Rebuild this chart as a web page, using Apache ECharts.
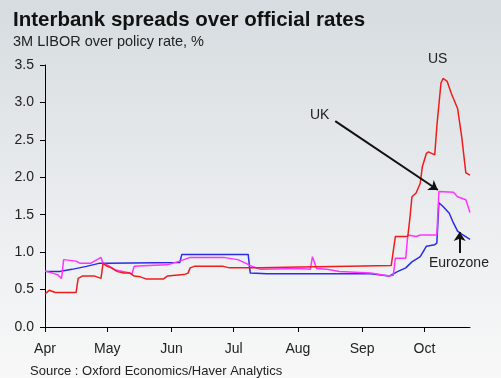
<html>
<head>
<meta charset="utf-8">
<title>Interbank spreads</title>
<script src="https://cdn.jsdelivr.net/npm/echarts@6/dist/echarts.min.js"></script>
<style>
body{margin:0; overflow:hidden;}
#main{width:501px; height:378px;}
</style>
</head>
<body>
<div id="main"></div>
<script type="text/javascript">
  var chart = echarts.init(document.getElementById('main'));

  // 3M LIBOR over policy rate, % (2008)
  var usData = [
    ['2008-04-01', 0.44], ['2008-04-03', 0.49], ['2008-04-06', 0.46], ['2008-04-16', 0.46],
    ['2008-04-17', 0.65], ['2008-04-19', 0.68], ['2008-04-25', 0.68], ['2008-04-28', 0.65],
    ['2008-04-29', 0.85], ['2008-05-01', 0.81], ['2008-05-03', 0.79], ['2008-05-06', 0.74],
    ['2008-05-09', 0.72], ['2008-05-12', 0.72], ['2008-05-14', 0.68], ['2008-05-17', 0.67],
    ['2008-05-20', 0.64], ['2008-05-28', 0.64], ['2008-05-30', 0.68], ['2008-06-07', 0.70],
    ['2008-06-09', 0.72], ['2008-06-10', 0.79], ['2008-06-12', 0.81], ['2008-06-26', 0.81],
    ['2008-06-29', 0.79], ['2008-07-14', 0.79], ['2008-08-02', 0.80], ['2008-08-26', 0.81],
    ['2008-09-15', 0.82], ['2008-09-17', 1.21], ['2008-09-23', 1.21], ['2008-09-24', 1.45],
    ['2008-09-25', 1.74], ['2008-09-27', 1.79], ['2008-09-29', 1.92], ['2008-09-30', 2.14],
    ['2008-10-02', 2.32], ['2008-10-03', 2.34], ['2008-10-06', 2.30], ['2008-10-07', 2.68],
    ['2008-10-09', 3.26], ['2008-10-10', 3.32], ['2008-10-12', 3.28], ['2008-10-14', 3.12],
    ['2008-10-17', 2.92], ['2008-10-19', 2.54], ['2008-10-21', 2.06], ['2008-10-23', 2.03]
  ];

  var ukData = [
    ['2008-04-01', 0.75], ['2008-04-07', 0.70], ['2008-04-09', 0.65], ['2008-04-10', 0.90],
    ['2008-04-16', 0.88], ['2008-04-18', 0.85], ['2008-04-23', 0.85], ['2008-04-28', 0.93],
    ['2008-04-29', 0.85], ['2008-05-01', 0.83], ['2008-05-05', 0.76], ['2008-05-12', 0.72],
    ['2008-05-13', 0.71], ['2008-05-14', 0.81], ['2008-05-21', 0.82], ['2008-05-30', 0.83],
    ['2008-06-05', 0.88], ['2008-06-10', 0.93], ['2008-06-26', 0.93], ['2008-07-03', 0.90],
    ['2008-07-07', 0.85], ['2008-07-09', 0.82], ['2008-07-14', 0.77], ['2008-08-02', 0.78],
    ['2008-08-07', 0.77], ['2008-08-08', 0.94], ['2008-08-10', 0.78], ['2008-08-15', 0.77],
    ['2008-08-21', 0.74], ['2008-09-05', 0.72], ['2008-09-14', 0.68], ['2008-09-16', 0.69],
    ['2008-09-17', 0.92], ['2008-09-22', 0.92], ['2008-09-23', 1.23], ['2008-09-27', 1.21],
    ['2008-09-29', 1.23], ['2008-10-07', 1.23], ['2008-10-08', 1.81], ['2008-10-15', 1.80],
    ['2008-10-17', 1.74], ['2008-10-19', 1.72], ['2008-10-21', 1.70], ['2008-10-23', 1.53]
  ];

  var euroData = [
    ['2008-04-01', 0.74], ['2008-04-08', 0.74], ['2008-04-14', 0.77], ['2008-04-21', 0.81],
    ['2008-04-27', 0.85], ['2008-05-01', 0.85], ['2008-06-05', 0.86], ['2008-06-06', 0.97],
    ['2008-07-08', 0.97], ['2008-07-09', 0.72], ['2008-07-17', 0.71], ['2008-08-18', 0.71],
    ['2008-09-05', 0.71], ['2008-09-14', 0.68], ['2008-09-18', 0.74], ['2008-09-22', 0.79],
    ['2008-09-25', 0.87], ['2008-09-29', 0.94], ['2008-10-02', 1.08], ['2008-10-06', 1.10],
    ['2008-10-07', 1.12], ['2008-10-08', 1.66], ['2008-10-10', 1.61], ['2008-10-13', 1.52],
    ['2008-10-15', 1.39], ['2008-10-17', 1.28], ['2008-10-19', 1.24], ['2008-10-23', 1.17]
  ];

  var monthNames = ['Jan', 'Feb', 'Mar', 'Apr', 'May', 'Jun', 'Jul', 'Aug', 'Sep', 'Oct', 'Nov', 'Dec'];

  // annotation arrows (from -> to), in data coordinates
  var ukArrow = [['2008-08-19', 2.75], ['2008-10-07 12:00', 1.83]];
  var euroArrow = [['2008-10-18', 0.99], ['2008-10-18', 1.27]];

  var font = '"Liberation Sans", Arial, sans-serif';

  var option = {
    animation: false,
    backgroundColor: {
      type: 'linear', x: 0, y: 0, x2: 0, y2: 1,
      colorStops: [{offset: 0, color: '#d6dce0'}, {offset: 0.6, color: '#eceef0'}, {offset: 1, color: '#f8f8f8'}]
    },
    title: {
      text: 'Interbank spreads over official rates',
      subtext: '3M LIBOR over policy rate, %',
      left: 8,
      top: 5,
      itemGap: 3,
      textStyle: {fontFamily: font, fontSize: 20.5, fontWeight: 'bold', color: '#111'},
      subtextStyle: {fontFamily: font, fontSize: 14.5, color: '#222'}
    },
    grid: {left: 45, right: 31, top: 65, bottom: 51},
    xAxis: {
      type: 'time',
      min: '2008-04-01',
      max: '2008-10-23',
      splitNumber: 7,
      axisLine: {lineStyle: {color: '#000', width: 1}},
      axisTick: {show: true, length: 5, lineStyle: {color: '#000'}},
      axisLabel: {
        margin: 15,
        hideOverlap: false,
        fontFamily: font, fontSize: 14, color: '#222',
        formatter: function (val) { return monthNames[new Date(val).getMonth()]; }
      },
      splitLine: {show: false}
    },
    yAxis: {
      type: 'value',
      min: 0,
      max: 3.5,
      interval: 0.5,
      axisLine: {show: true, lineStyle: {color: '#000', width: 1}},
      axisTick: {show: true, length: 5, lineStyle: {color: '#000'}},
      axisLabel: {
        margin: 11,
        fontFamily: font, fontSize: 14, color: '#222',
        formatter: function (v) { return v.toFixed(1); }
      },
      splitLine: {show: false}
    },
    series: [{
      name: 'Eurozone',
      type: 'line',
      showSymbol: false,
      lineStyle: {color: '#2c2ce6', width: 1.5},
      itemStyle: {color: '#2c2ce6'},
      data: euroData,
      markLine: {
        silent: true,
        symbol: ['none', 'arrow'],
        symbolSize: 9,
        label: {show: false},
        lineStyle: {color: '#111', width: 2, type: 'solid'},
        data: [[{coord: euroArrow[0]}, {coord: euroArrow[1]}]]
      }
    }, {
      name: 'UK',
      type: 'line',
      showSymbol: false,
      lineStyle: {color: '#ff33ff', width: 1.5},
      itemStyle: {color: '#ff33ff'},
      data: ukData,
      markLine: {
        silent: true,
        symbol: ['none', 'arrow'],
        symbolSize: 9,
        label: {show: false},
        lineStyle: {color: '#111', width: 2, type: 'solid'},
        data: [[{coord: ukArrow[0]}, {coord: ukArrow[1]}]]
      }
    }, {
      name: 'US',
      type: 'line',
      showSymbol: false,
      lineStyle: {color: '#f01c1c', width: 1.5},
      itemStyle: {color: '#f01c1c'},
      data: usData
    }],
    graphic: [
      {type: 'text', left: 428, top: 52, style: {text: 'US', font: '14px ' + font, fill: '#222'}},
      {type: 'text', left: 310, top: 108, style: {text: 'UK', font: '14px ' + font, fill: '#222'}},
      {type: 'text', left: 429, top: 256, style: {text: 'Eurozone', font: '14px ' + font, fill: '#222'}},
      {type: 'text', left: 30, top: 365, style: {text: 'Source : Oxford Economics/Haver Analytics', font: '13px ' + font, fill: '#222'}}
    ]
  };

  chart.setOption(option);
</script>
</body>
</html>
